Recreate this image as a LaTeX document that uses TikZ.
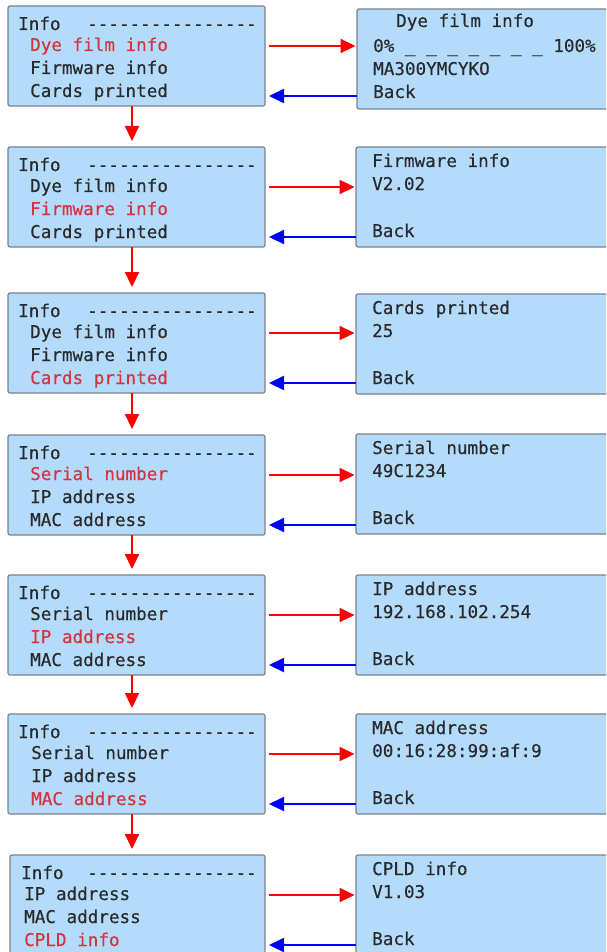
\documentclass[tikz,border=0pt]{standalone}
\usepackage{fontspec}
\newfontfamily\lcdfont[FakeBold=0.35]{DejaVu Sans Mono}
\usetikzlibrary{arrows.meta}
\definecolor{boxfill}{RGB}{181,219,250}
\definecolor{boxline}{RGB}{120,130,142}
\definecolor{txtcol}{RGB}{40,42,46}
\definecolor{selcol}{RGB}{210,52,64}
\newcommand\dashrow{-{}-{}-{}-{}-{}-{}-{}-{}-{}-{}-{}-{}-{}-{}-{}-}
\begin{document}
\begin{tikzpicture}[x=1pt,y=-1pt,
  lbox/.style={draw=boxline, fill=boxfill, line width=1.2pt, rounded corners=2pt,
    minimum width=257pt, minimum height=100pt, anchor=north west, inner sep=0pt, outer sep=0pt},
  rbox/.style={lbox, minimum width=264pt},
  txt/.style={anchor=base west, inner sep=0pt, font=\lcdfont\fontsize{17.6}{20}\selectfont, text=txtcol},
  sel/.style={txt, text=selcol},
  rarr/.style={draw=red, line width=2.2pt, -{Triangle[length=15pt,width=14pt]}},
  barr/.style={draw=blue, line width=2.2pt, -{Triangle[length=15pt,width=14pt]}}]
\useasboundingbox (0,0) rectangle (606,952);
\fill[white] (0,0) rectangle (606,952);
\clip (0,0) rectangle (606,952);

% ---------- Row 1 ----------
\node[lbox] (L1) at (8,6) {};
\node[txt] (L1h) at (18,30) {Info};
\node[txt] (L1d) at (87,30) {\dashrow};
\node[sel] (L1a) at (30,51) {Dye film info};
\node[txt] (L1b) at (30,74) {Firmware info};
\node[txt] (L1c) at (30,97) {Cards printed};
\node[rbox] (R1) at (357,9) {};
\node[txt] (R1a) at (396,27) {Dye film info};
\node[txt] (R1b) at (373,52) {0\% \_ \_ \_ \_ \_ \_ \_ 100\%};
\node[txt] (R1c) at (373,75) {MA300YMCYKO};
\node[txt] (R1d) at (373,98) {Back};

% ---------- Row 2 ----------
\node[lbox] (L2) at (8,147) {};
\node[txt] (L2h) at (18,171) {Info};
\node[txt] (L2d) at (87,171) {\dashrow};
\node[txt] (L2a) at (30,192) {Dye film info};
\node[sel] (L2b) at (30,215) {Firmware info};
\node[txt] (L2c) at (30,238) {Cards printed};
\node[rbox] (R2) at (356,147) {};
\node[txt] (R2a) at (372,167) {Firmware info};
\node[txt] (R2b) at (372,190) {V2.02};
\node[txt] (R2d) at (372,237) {Back};

% ---------- Row 3 ----------
\node[lbox] (L3) at (8,293) {};
\node[txt] (L3h) at (18,317) {Info};
\node[txt] (L3d) at (87,317) {\dashrow};
\node[txt] (L3a) at (30,338) {Dye film info};
\node[txt] (L3b) at (30,361) {Firmware info};
\node[sel] (L3c) at (30,384) {Cards printed};
\node[rbox] (R3) at (356,294) {};
\node[txt] (R3a) at (372,314) {Cards printed};
\node[txt] (R3b) at (372,337) {25};
\node[txt] (R3d) at (372,384) {Back};

% ---------- Row 4 ----------
\node[lbox] (L4) at (8,435) {};
\node[txt] (L4h) at (18,459) {Info};
\node[txt] (L4d) at (87,459) {\dashrow};
\node[sel] (L4a) at (30,480) {Serial number};
\node[txt] (L4b) at (30,503) {IP address};
\node[txt] (L4c) at (30,526) {MAC address};
\node[rbox] (R4) at (356,434) {};
\node[txt] (R4a) at (372,454) {Serial number};
\node[txt] (R4b) at (372,477) {49C1234};
\node[txt] (R4d) at (372,524) {Back};

% ---------- Row 5 ----------
\node[lbox] (L5) at (8,575) {};
\node[txt] (L5h) at (18,599) {Info};
\node[txt] (L5d) at (87,599) {\dashrow};
\node[txt] (L5a) at (30,620) {Serial number};
\node[sel] (L5b) at (30,643) {IP address};
\node[txt] (L5c) at (30,666) {MAC address};
\node[rbox] (R5) at (356,575) {};
\node[txt] (R5a) at (372,595) {IP address};
\node[txt] (R5b) at (372,618) {192.168.102.254};
\node[txt] (R5d) at (372,665) {Back};

% ---------- Row 6 ----------
\node[lbox] (L6) at (8,714) {};
\node[txt] (L6h) at (18,738) {Info};
\node[txt] (L6d) at (87,738) {\dashrow};
\node[txt] (L6a) at (31,759) {Serial number};
\node[txt] (L6b) at (31,782) {IP address};
\node[sel] (L6c) at (31,805) {MAC address};
\node[rbox] (R6) at (356,714) {};
\node[txt] (R6a) at (372,734) {MAC address};
\node[txt] (R6b) at (372,757) {00:16:28:99:af:9};
\node[txt] (R6d) at (372,804) {Back};

% ---------- Row 7 ----------
\node[lbox, minimum width=255pt] (L7) at (10,855) {};
\node[txt] (L7h) at (21,879) {Info};
\node[txt] (L7d) at (87,879) {\dashrow};
\node[txt] (L7a) at (24,900) {IP address};
\node[txt] (L7b) at (24,923) {MAC address};
\node[sel] (L7c) at (24,946) {CPLD info};
\node[rbox] (R7) at (356,855) {};
\node[txt] (R7a) at (372,875) {CPLD info};
\node[txt] (R7b) at (372,898) {V1.03};
\node[txt] (R7d) at (372,945) {Back};

% ---------- horizontal connectors ----------
\foreach \i in {1,...,7}{
  \draw[rarr, shorten >=1.5pt] ([xshift=4pt,yshift=-40pt]L\i.north east) coordinate (rs\i) -- (rs\i -| R\i.west);
  \path ([xshift=4pt,yshift=-90pt]L\i.north east) coordinate (be\i);
  \draw[barr] (be\i -| R\i.west) -- (be\i);
}

% ---------- vertical connectors ----------
\foreach \i/\j in {1/2,2/3,3/4,4/5,5/6,6/7}{
  \draw[rarr, shorten >=6pt] ([xshift=-4.5pt]L\i.south) coordinate (ds\i) -- (ds\i |- L\j.north);
}
\end{tikzpicture}
\end{document}
